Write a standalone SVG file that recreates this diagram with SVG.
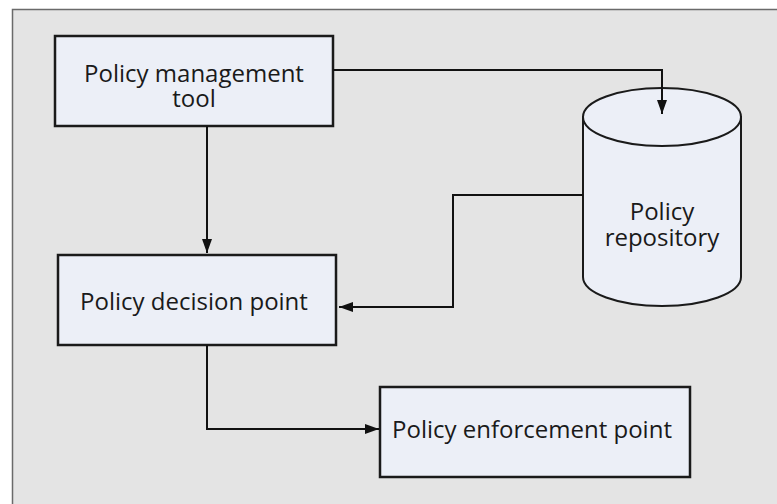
<svg xmlns="http://www.w3.org/2000/svg" width="777" height="504" viewBox="0 0 777 504">
  <defs>
    <marker id="arrow" viewBox="0 0 14 10" refX="14" refY="5" markerWidth="14" markerHeight="10" markerUnits="userSpaceOnUse" orient="auto">
      <path d="M0,0 L14,5 L0,10 Z" fill="#111"/>
    </marker>
    <style>
      .box { fill: #eceff7; stroke: #1a1a1a; stroke-width: 2.5; }
      .cyl { fill: #eceff7; stroke: #1a1a1a; stroke-width: 2; }
      .label { font-family: "Open Sans", "Noto Sans", "Liberation Sans", sans-serif; font-size: 24px; fill: #1a1a1a; text-anchor: middle; }
      .conn { fill: none; stroke: #111; stroke-width: 2; }
    </style>
  </defs>

  <!-- page background and panel -->
  <rect x="0" y="0" width="777" height="504" fill="#ffffff"/>
  <rect x="12.5" y="9.5" width="770" height="500" fill="#e4e4e4" stroke="#6a6a6a" stroke-width="1.5"/>

  <g id="policy-management-tool">
    <rect class="box" x="55" y="36" width="278" height="90"/>
    <text class="label" x="194" y="82">Policy management</text>
    <text class="label" x="194" y="107">tool</text>
  </g>

  <g id="policy-repository">
    <path class="cyl" d="M583,117 L583,277 A79,29 0 0 0 741,277 L741,117 Z"/>
    <ellipse class="cyl" cx="662" cy="117" rx="79" ry="29"/>
    <text class="label" x="662" y="220">Policy</text>
    <text class="label" x="662" y="246">repository</text>
  </g>

  <g id="policy-decision-point">
    <rect class="box" x="58" y="255" width="278" height="90"/>
    <text class="label" x="194" y="310">Policy decision point</text>
  </g>

  <g id="policy-enforcement-point">
    <rect class="box" x="380" y="387" width="310" height="90"/>
    <text class="label" x="532" y="438">Policy enforcement point</text>
  </g>

  <g id="connectors">
    <path class="conn" d="M333,70 L662,70 L662,114" marker-end="url(#arrow)"/>
    <path class="conn" d="M207,126 L207,253" marker-end="url(#arrow)"/>
    <path class="conn" d="M583,195 L453,195 L453,307 L339,307" marker-end="url(#arrow)"/>
    <path class="conn" d="M207,345 L207,429 L379,429" marker-end="url(#arrow)"/>
  </g>
</svg>
